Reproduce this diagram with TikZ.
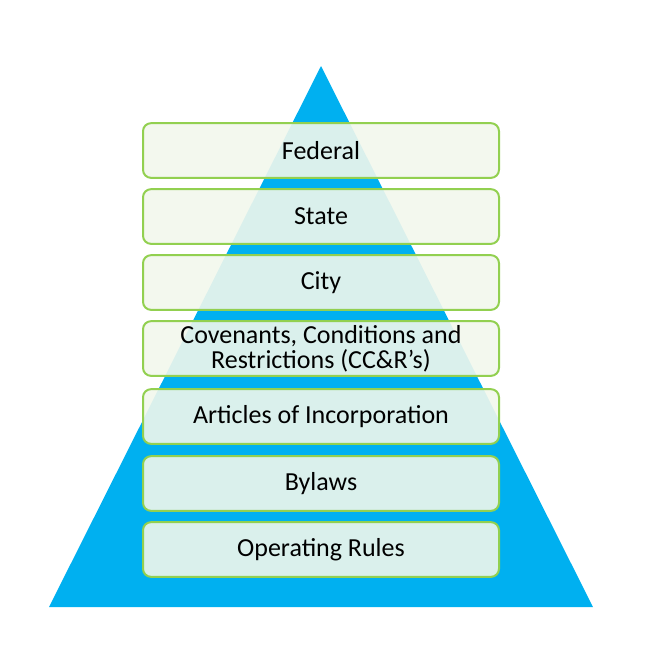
\documentclass[tikz,border=0pt]{standalone}
\usepackage{fontspec}
\setmainfont{Carlito}
\definecolor{triblue}{RGB}{0,176,240}
\definecolor{boxgreen}{RGB}{146,208,80}
\definecolor{boxfill}{RGB}{242,247,236}
\begin{document}
\begin{tikzpicture}[x=0.75pt,y=-0.75pt,
  tier/.style={draw=boxgreen, line width=1.5pt, fill=boxfill, fill opacity=0.9, text opacity=1,
    rounded corners=6pt, minimum width=267pt, minimum height=41pt, inner sep=0pt,
    align=center, font=\fontsize{19.5}{18.8}\selectfont, text=black}]
\useasboundingbox (0,0) rectangle (645,662);
\fill[triblue] (321,66) coordinate (apex) -- (593,607) coordinate (br) -- (49,607) coordinate (bl) -- cycle;
\node[tier] (federal) at (321,150.5) {Federal};
\node[tier] (state) at (321,216.5) {State};
\node[tier] (city) at (321,282.5) {City};
\node[tier] (ccr) at (321,348.5) {Covenants, Conditions and\\Restrictions (CC\&R’s)};
\node[tier] (articles) at (321,416.5) {Articles of Incorporation};
\node[tier] (bylaws) at (321,483.5) {Bylaws};
\node[tier] (rules) at (321,549.5) {Operating Rules};
\end{tikzpicture}
\end{document}
